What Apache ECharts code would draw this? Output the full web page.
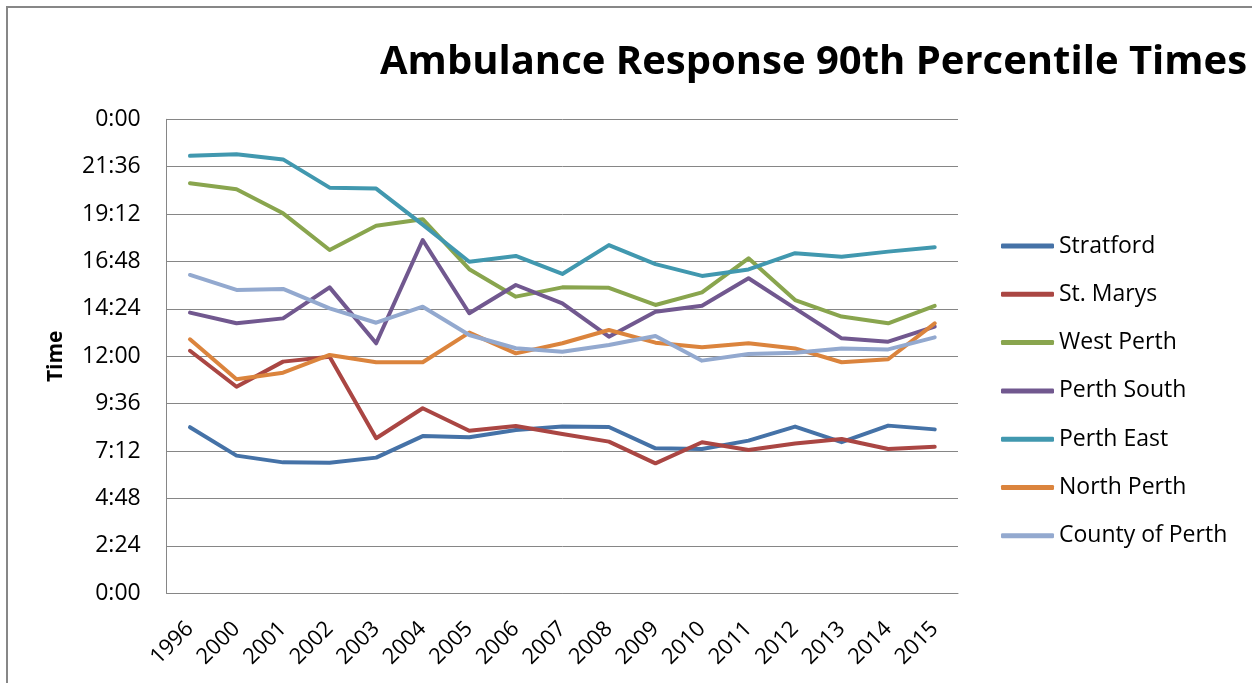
<!DOCTYPE html>
<html>
<head>
<meta charset="utf-8">
<script src="https://cdn.jsdelivr.net/npm/echarts@6/dist/echarts.min.js"></script>
<style>
html,body{margin:0;padding:0;background:#fff;}
#chart{width:1252px;height:683px;}
</style>
</head>
<body>
<div id="chart"></div>
<script>
// Categories (years)
const years = ['1996','2000','2001','2002','2003','2004','2005','2006','2007','2008','2009','2010','2011','2012','2013','2014','2015'];
// Values in axis units (the axis is a 0–24 "h:mm" time scale)
const stratford  = [8.41, 6.97, 6.63, 6.61, 6.87, 7.96, 7.90, 8.27, 8.44, 8.42, 7.34, 7.31, 7.73, 8.44, 7.65, 8.49, 8.30];
const stMarys    = [12.28, 10.46, 11.73, 11.98, 7.85, 9.37, 8.23, 8.47, 8.07, 7.68, 6.58, 7.65, 7.26, 7.59, 7.81, 7.31, 7.42];
const westPerth  = [20.76, 20.46, 19.24, 17.38, 18.61, 18.94, 16.41, 15.02, 15.49, 15.47, 14.60, 15.24, 16.96, 14.85, 14.01, 13.67, 14.55];
const perthSouth = [14.21, 13.67, 13.92, 15.49, 12.66, 17.89, 14.18, 15.61, 14.68, 12.99, 14.26, 14.56, 15.95, 14.43, 12.91, 12.74, 13.50];
const perthEast  = [22.15, 22.23, 21.97, 20.54, 20.49, 18.67, 16.79, 17.08, 16.17, 17.63, 16.67, 16.07, 16.40, 17.22, 17.04, 17.30, 17.52];
const northPerth = [12.86, 10.84, 11.17, 12.07, 11.70, 11.70, 13.20, 12.15, 12.66, 13.33, 12.69, 12.46, 12.66, 12.40, 11.70, 11.85, 13.67];
const countyOfPerth = [16.12, 15.36, 15.41, 14.43, 13.70, 14.51, 13.08, 12.41, 12.23, 12.57, 13.03, 11.78, 12.12, 12.18, 12.40, 12.35, 12.96];

const seriesNames = ['Stratford','St. Marys','West Perth','Perth South','Perth East','North Perth','County of Perth'];
const seriesData = [stratford, stMarys, westPerth, perthSouth, perthEast, northPerth, countyOfPerth];
const colors = ['#4572A7','#AA4643','#89A54E','#71588F','#4198AF','#DB843D','#93A9CF'];

const FONT = '"Open Sans", "Liberation Sans", sans-serif';

function fmtTime(v){
  const total = Math.round(v * 60);
  const h = Math.floor(total / 60) % 24;
  const m = total % 60;
  return h + ':' + (m < 10 ? '0' + m : m);
}

const chart = echarts.init(document.getElementById('chart'), null, {renderer:'canvas'});
chart.setOption({
  animation: false,
  color: colors,
  backgroundColor: '#fff',
  title: {
    text: 'Ambulance Response 90th Percentile Times',
    left: 375,
    top: 38,
    textStyle: {fontFamily: FONT, fontSize: 40, fontWeight: 'bold', color: '#000'}
  },
  graphic: [{
    type: 'rect', silent: true, z: -1,
    shape: {x: 7, y: 7, width: 1400, height: 900},
    style: {fill: 'none', stroke: '#878787', lineWidth: 2}
  }],
  grid: {left: 166.7, right: 294, top: 119.3, bottom: 89.7, containLabel: false},
  legend: {
    orient: 'vertical',
    left: 996,
    top: 227,
    itemWidth: 53,
    itemHeight: 5,
    itemGap: 20.3,
    icon: 'roundRect',
    textStyle: {fontFamily: FONT, fontSize: 23, color: '#000', lineHeight: 28, padding: [0,0,0,0]},
    data: seriesNames
  },
  xAxis: {
    type: 'category',
    data: years,
    boundaryGap: true,
    axisLine: {show: true, lineStyle: {color: '#868686', width: 1}},
    axisTick: {show: false},
    axisLabel: {rotate: 45, margin: 32, fontFamily: FONT, fontSize: 22, color: '#000', interval: 0}
  },
  yAxis: {
    type: 'value',
    min: 0, max: 24, interval: 2.4,
    name: 'Time',
    nameLocation: 'middle',
    nameRotate: 90,
    nameGap: 100,
    nameTextStyle: {fontFamily: FONT, fontSize: 21, fontWeight: 'bold', color: '#000'},
    axisLine: {show: true, lineStyle: {color: '#868686', width: 1}},
    axisTick: {show: false},
    splitLine: {show: true, lineStyle: {color: '#868686', width: 1}},
    axisLabel: {formatter: fmtTime, margin: 26, fontFamily: FONT, fontSize: 23, color: '#000'}
  },
  series: seriesNames.map((n, i) => ({
    name: n,
    type: 'line',
    data: seriesData[i],
    symbol: 'none',
    lineStyle: {width: 4, color: colors[i], cap: 'round', join: 'round'},
    itemStyle: {color: colors[i]}
  }))
});
</script>
</body>
</html>
